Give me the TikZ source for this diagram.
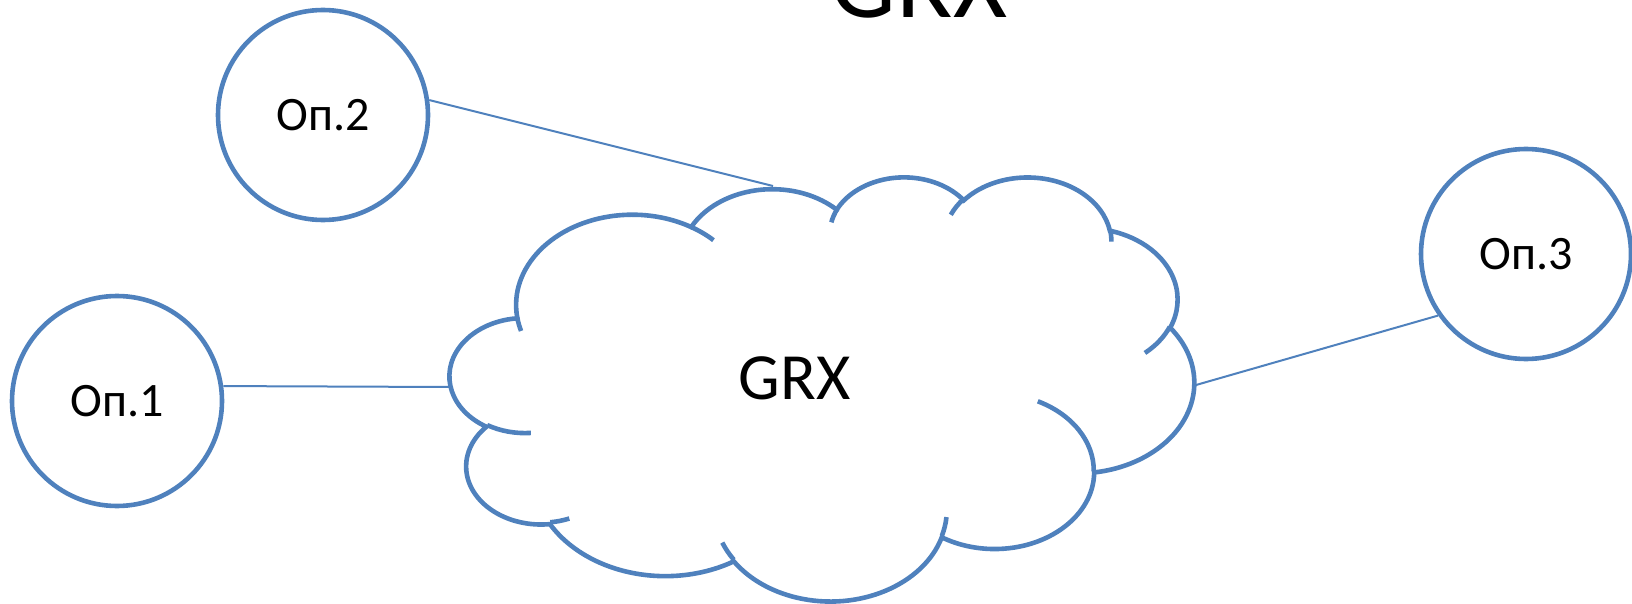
\documentclass[tikz,border=0pt]{standalone}
\usepackage{fontspec}
\setmainfont{Carlito}
\definecolor{linkblue}{RGB}{79,129,189}

% One elliptical lobe of the cloud outline, continuing from the current point.
% #1,#2: x/y radii; #3: start angle; #4: sweep (angles measured to the point
% on the ellipse, converted here to the parametric angles that arc expects).
\newcommand\lobe[4]{%
  \pgfextra{%
    \pgfmathsetmacro\lobeE{#3+#4}%
    \pgfmathsetmacro\lobeTs{atan2(#1*sin(#3),#2*cos(#3))}%
    \pgfmathsetmacro\lobeTe{atan2(#1*sin(\lobeE),#2*cos(\lobeE))}%
    \pgfmathsetmacro\lobeTe{\lobeTe+360*(\lobeTe<\lobeTs)}%
    \xdef\lobeStart{\lobeTs}\xdef\lobeEnd{\lobeTe}%
  }%
  arc[start angle=\lobeStart, end angle=\lobeEnd, x radius=#1, y radius=#2]%
}

\begin{document}
\begin{tikzpicture}[x=1pt, y=-1pt,
  opcircle/.style={circle, draw=linkblue, line width=4.6pt, fill=white,
    minimum size=210pt, inner sep=0pt, font=\fontsize{48}{48}\selectfont},
  link/.style={draw=linkblue, line width=2pt},
  cloudline/.style={draw=linkblue, line width=4.6pt},
  cloudtext/.style={font=\fontsize{66}{66}\selectfont},
  titletext/.style={font=\fontsize{104}{104}\selectfont}]
\useasboundingbox (0,0) rectangle (1632,604);

% heading, partly above the page
\node[titletext, anchor=base, inner sep=0pt] (title) at (919,18) {GRX};

% operators
\node[opcircle] (op1) at (117,401) {Оп.1};
\node[opcircle] (op2) at (323,115) {Оп.2};
\node[opcircle] (op3) at (1526,254) {Оп.3};

% attachment points on the cloud
\coordinate (cl) at (450,387);
\coordinate (ct) at (773,186);
\coordinate (cr) at (1196,385);

% links
\draw[link] (op1.8) -- (cl);
\draw[link] (op2.8) -- (ct);
\draw[link] (op3.215) -- (cr);

% the GRX cloud
\begin{scope}[shift={(450,176)}, x=1.722222pt, y=-0.981481pt]
  \path[cloudline, fill=white] (39.00,143.70)
    \lobe{67.53}{91.90}{-190.48748}{123.78053}
    \lobe{53.33}{72.67}{-144.10238}{89.94523}
    \lobe{43.65}{59.45}{-145.80792}{99.72302}
    \lobe{48.57}{65.95}{-130.98607}{117.24173}
    \lobe{53.33}{72.73}{-78.70888}{109.02692}
    \lobe{67.75}{92.20}{-46.26725}{130.269}
    \lobe{57.85}{78.67}{0.62502}{114.03333}
    \lobe{67.52}{92.15}{22.4516}{115.17255}
    \lobe{77.20}{105.43}{66.24263}{75.71102}
    \lobe{43.60}{59.18}{-274.94208}{146.73557}
    \lobe{43.45}{59.45}{-246.8285}{152.51885}
    -- cycle;
  % inner creases between the lobes
  \path[cloudline] (46.93,261.77) \lobe{43.45}{59.45}{86.742}{26.4295};
  \path[cloudline] (69.28,348.99) \lobe{43.60}{59.18}{73.61047}{11.44747};
  \path[cloudline] (164.78,390.90) \lobe{67.52}{92.15}{137.62415}{14.0811};
  \path[cloudline] (288.27,347.51) \lobe{67.52}{92.15}{6.45327}{15.99835};
  \path[cloudline] (341.29,229.54) \lobe{57.85}{78.67}{-70.29235}{70.91737};
  \path[cloudline] (417.98,153.54) \lobe{53.33}{72.73}{30.31803}{27.7515};
  \path[cloudline] (383.24,54.26) \lobe{48.57}{65.95}{-13.74433}{14.8589};
  \path[cloudline] (290.78,39.52) \lobe{48.57}{65.95}{-149.18145}{18.19537};
  \path[cloudline] (221.41,47.20) \lobe{43.65}{59.45}{-163.49427}{17.68635};
  \path[cloudline] (140.00,51.92) \lobe{67.53}{91.90}{-66.70695}{12.31935};
  \path[cloudline] (41.27,157.89) \lobe{67.53}{91.90}{157.65435}{11.85817};
\end{scope}

\node[cloudtext] (grx) at (794.5,378) {GRX};
\end{tikzpicture}
\end{document}
